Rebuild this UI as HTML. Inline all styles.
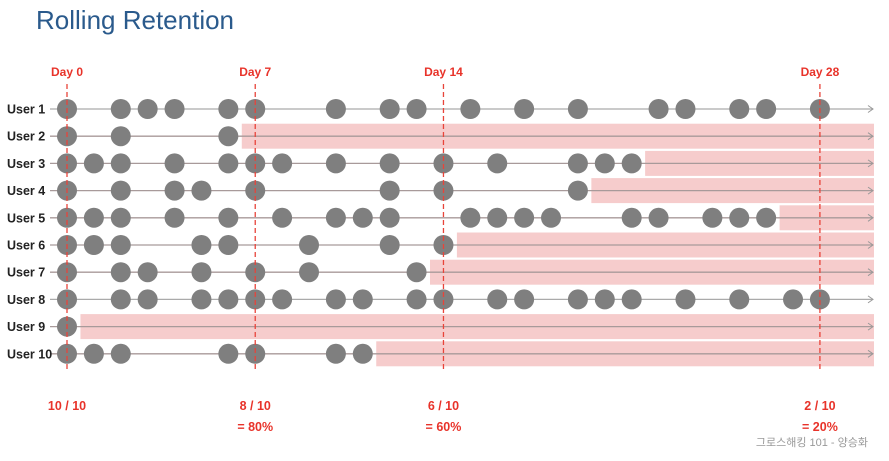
<!DOCTYPE html>
<html><head><meta charset="utf-8">
<style>
html,body{margin:0;padding:0;background:#fff;width:889px;height:461px;overflow:hidden}
svg{display:block;font-family:"Liberation Sans","Noto Sans CJK KR",sans-serif}
</style></head><body>
<svg id="chart" width="889" height="461" viewBox="0 0 889 461">
<text x="36" y="29" font-size="26" fill="#2a5a8c">Rolling Retention</text>
<g id="grid"></g>
<text x="868" y="446" font-size="11" fill="#999" text-anchor="end">그로스해킹 101 - 양승화</text>
</svg>
<script>
const users = ["User 1","User 2","User 3","User 4","User 5","User 6","User 7","User 8","User 9","User 10"];
const visits1 = [0,2,3,4,6,7,10,12,13,15,17,19,22,23,25,26,28];
const visits2 = [0,2,6];
const visits3 = [0,1,2,4,6,7,8,10,12,14,16,19,20,21];
const visits4 = [0,2,4,5,7,12,14,19];
const visits5 = [0,1,2,4,6,8,10,11,12,15,16,17,18,21,22,24,25,26];
const visits6 = [0,1,2,5,6,9,12,14];
const visits7 = [0,2,3,5,7,9,13];
const visits8 = [0,2,3,5,6,7,8,10,11,13,14,16,17,19,20,21,23,25,27,28];
const visits9 = [0];
const visits10 = [0,1,2,6,7,10,11];
const churned = [false,true,true,true,true,true,true,false,true,true];
const markerDays = [0,7,14,28];
const retainedCounts = ["10 / 10","8 / 10","6 / 10","2 / 10"];
const retainedPct = ["","= 80%","= 60%","= 20%"];

const allVisits=[visits1,visits2,visits3,visits4,visits5,visits6,visits7,visits8,visits9,visits10];
const NS="http://www.w3.org/2000/svg";
const g=document.getElementById('grid');
const x=d=>67+d*26.89;
const y=i=>109+i*27.2;
function mk(tag,attrs){const e=document.createElementNS(NS,tag);for(const k in attrs)e.setAttribute(k,attrs[k]);g.appendChild(e);return e;}

users.forEach((u,i)=>{
  const v=allVisits[i];
  const last=v[v.length-1];
  if(churned[i]){
    const r=mk('rect',{x:x(last+0.5),y:y(i)-12.5,width:874-x(last+0.5),height:25,fill:'#f6cccc'});
    
    
  }
  const ln=mk('line',{x1:50,y1:y(i),x2:873,y2:y(i),stroke:churned[i]&&true?'#a89a9a':'#aaa','stroke-width':1.3});
  
  
  const ar=mk('path',{d:`M868 ${y(i)-3.5} L873 ${y(i)} L868 ${y(i)+3.5}`,fill:'none',stroke:'#999','stroke-width':1});
  
  
  const t=mk('text',{x:7,y:y(i)+4.5,'font-size':12.5,fill:'#222','font-weight':'bold'});
  t.textContent=u;
  
  
  v.forEach(d=>{
    const c=mk('circle',{cx:x(d),cy:y(i),r:10,fill:'#7f7f7f'});
    
    
  });
});

markerDays.forEach((d,k)=>{
  const l=mk('line',{x1:x(d),y1:84,x2:x(d),y2:372,stroke:'#e8443a','stroke-width':1.3,'stroke-dasharray':'5,3'});
  
  
  const t=mk('text',{x:x(d),y:76,'font-size':12,'font-weight':'bold',fill:'#e8332a','text-anchor':'middle'});
  t.textContent='Day '+d;
  
  
  const a=mk('text',{x:x(d),y:410,'font-size':12.5,'font-weight':'bold',fill:'#e8332a','text-anchor':'middle'});
  a.textContent=retainedCounts[k];
  
  
  if(retainedPct[k]){
    const b=mk('text',{x:x(d),y:431,'font-size':12.5,'font-weight':'bold',fill:'#e8332a','text-anchor':'middle'});
    b.textContent=retainedPct[k];
    
    
  }
});
</script>
</body></html>
